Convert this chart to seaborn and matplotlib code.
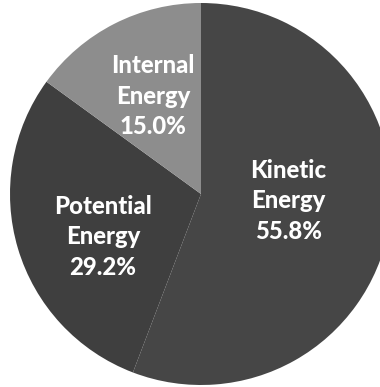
import matplotlib
matplotlib.use("Agg")
import matplotlib.pyplot as plt
import seaborn as sns
import numpy as np

categories = ["Kinetic\nEnergy", "Potential\nEnergy", "Internal\nEnergy"]
values = [55.8, 29.2, 15.0]
colors = ["#464646", "#3f3f3f", "#8d8d8d"]
# label placement: radius fraction and angle offset (deg) relative to wedge middle
label_radius = [0.46, 0.56, 0.57]
label_angle_shift = [6.0, 7.0, -1.0]

sns.set_style("white")
plt.rcParams["font.family"] = ["Lato", "DejaVu Sans"]

fig = plt.figure(figsize=(3.8, 3.87), dpi=100)
ax = fig.add_axes([0, 0, 1, 1])
wedges, _ = ax.pie(values, colors=colors, startangle=90, counterclock=False,
                   radius=1.0, wedgeprops=dict(linewidth=0))
for w, cat, v, rf, sh in zip(wedges, categories, values, label_radius, label_angle_shift):
    mid = np.deg2rad((w.theta1 + w.theta2) / 2 + sh)
    ax.text(rf * np.cos(mid), rf * np.sin(mid), f"{cat}\n{v:.1f}%",
            ha="center", va="center", color="white", fontsize=17.2,
            fontweight="black", linespacing=1.4)

ax.set_xlim(-201 / 191, 179 / 191)
ax.set_ylim(-193 / 191, 194 / 191)
ax.set_aspect("auto")
ax.axis("off")
fig.savefig("out.png", dpi=100, facecolor="white")
